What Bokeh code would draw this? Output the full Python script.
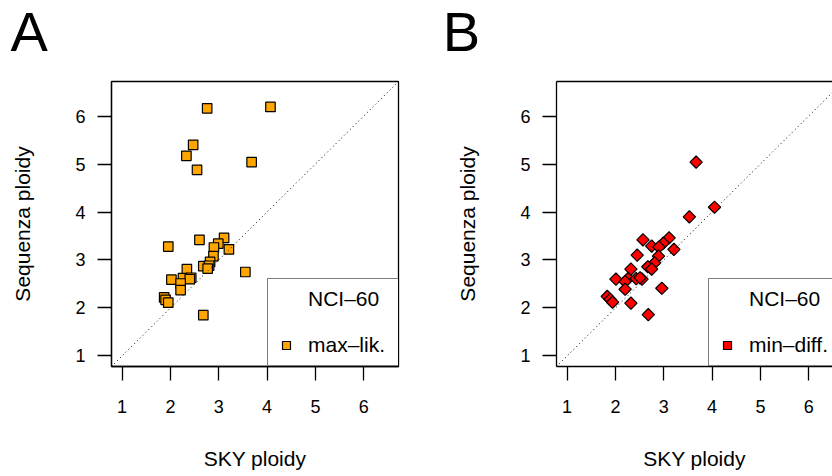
import math
from bokeh.plotting import figure
from bokeh.models import Range1d, FixedTicker, Slope, Legend, LegendItem, Label, LinearAxis
from bokeh.layouts import row, column
from bokeh.embed import file_html
from bokeh.resources import INLINE

# ---- data ----
sky_a = [2.76, 4.07, 2.47, 2.33, 2.55, 3.68,
         1.955, 2.60, 3.11, 2.99, 2.90, 3.21, 2.89, 2.82, 2.68, 2.80, 2.77,
         3.55, 2.34, 2.02, 2.26, 2.43, 2.40, 2.21, 2.21, 1.87, 1.90, 1.955, 2.68]
seq_maxlik = [6.16, 6.19, 5.40, 5.17, 4.88, 5.04,
              3.28, 3.42, 3.46, 3.34, 3.26, 3.22, 3.08, 2.96, 2.87, 2.88, 2.82,
              2.75, 2.81, 2.59, 2.62, 2.63, 2.60, 2.51, 2.37, 2.22, 2.17, 2.11, 1.85]

sky_b = [3.67, 4.05, 3.53, 2.57, 3.11, 2.75, 2.99, 2.90, 3.21, 2.45, 2.89,
         2.81, 2.67, 2.75, 2.32, 2.01, 2.26, 2.43, 2.55, 2.51, 2.20, 2.20,
         2.96, 1.83, 1.89, 1.94, 2.32, 2.68]
seq_mindiff = [5.04, 4.10, 3.90, 3.42, 3.46, 3.29, 3.35, 3.27, 3.22, 3.10, 3.08,
               2.94, 2.86, 2.81, 2.81, 2.60, 2.61, 2.61, 2.60, 2.63, 2.55, 2.39,
               2.41, 2.24, 2.18, 2.12, 2.10, 1.86]

axis_ticks = [1, 2, 3, 4, 5, 6]
x_title = "SKY ploidy"
y_title = "Sequenza ploidy"
legend_title = "NCI\u201360"
series_labels = ["max\u2013lik.", "min\u2013diff."]
panel_letters = ["A", "B"]

FONT = "Liberation Sans"
LW = 1.3
STRIP_H = 72


def style_axis(ax):
    ax.ticker = FixedTicker(ticks=axis_ticks)
    ax.minor_tick_line_color = None
    ax.major_tick_in = 0
    ax.major_tick_out = 14
    ax.major_tick_line_width = LW
    ax.major_tick_line_color = "black"
    ax.axis_line_width = LW
    ax.axis_line_color = "black"
    ax.major_label_text_font = FONT
    ax.major_label_text_font_size = "18px"
    ax.major_label_text_color = "black"
    ax.axis_label_text_font = FONT
    ax.axis_label_text_font_size = "21px"
    ax.axis_label_text_font_style = "normal"
    ax.axis_label_text_color = "black"


def make_panel(xs, ys, width, border_right, x_end, color, size, angle,
               label, legend_x, boxed):
    p = figure(width=width, height=476 - STRIP_H, title=None,
               x_range=Range1d(0.78, x_end), y_range=Range1d(0.78, 6.72),
               output_backend="svg", toolbar_location=None,
               min_border_left=111, min_border_right=border_right,
               min_border_top=81 - STRIP_H, min_border_bottom=110,
               background_fill_color="white", border_fill_color="white")
    p.grid.visible = False
    xa = p.below[0]
    ya = p.left[0]
    style_axis(xa)
    style_axis(ya)
    xa.axis_label = x_title
    ya.axis_label = y_title
    xa.major_label_standoff = 19
    xa.axis_label_standoff = 31
    ya.major_label_standoff = 12
    ya.axis_label_standoff = 38

    if boxed:
        p.outline_line_color = "black"
        p.outline_line_width = LW
        p.outline_line_alpha = 1
    else:
        # panel is cut by the right page edge: draw only left/bottom/top sides
        p.outline_line_color = None
        top = LinearAxis(ticker=FixedTicker(ticks=[]), major_tick_out=0,
                         major_tick_in=0, minor_tick_line_color=None,
                         major_label_text_font_size="0px",
                         major_label_standoff=0,
                         axis_line_width=LW, axis_line_color="black")
        p.add_layout(top, "above")

    r = p.scatter(xs, ys, marker="square", size=size, angle=angle,
                  fill_color=color, line_color="black", line_width=1.2)

    p.add_layout(Slope(gradient=1, y_intercept=0, line_color="black",
                       line_width=1, line_dash="1 3"))

    legend = Legend(
        items=[LegendItem(label=legend_title, renderers=[]),
               LegendItem(label=label, renderers=[r])],
        location=(legend_x, 0),
        padding=8, spacing=22, margin=0,
        glyph_width=20, glyph_height=20, label_height=20,
        label_width=83, label_standoff=12,
        label_text_font=FONT, label_text_font_size="21px",
        label_text_color="black",
        border_line_color="black", border_line_width=LW,
        background_fill_color="white", background_fill_alpha=1,
    )
    p.add_layout(legend, "center")
    return p


pa = make_panel(sky_a, seq_maxlik, 445, 47, 6.72, "#FFA500", 9.5, 0,
                series_labels[0], 156, True)
pb = make_panel(sky_b, seq_mindiff, 387, 0, 0.78 + 276 * (5.94 / 287),
                "#FF0000", 8.7, math.pi / 4, series_labels[1], 152, False)

# strip holding the panel letters
strip = figure(width=832, height=STRIP_H, title=None,
               x_range=Range1d(0, 832), y_range=Range1d(0, STRIP_H),
               x_axis_location=None, y_axis_location=None,
               output_backend="svg", toolbar_location=None, min_border=0,
               background_fill_color="white", border_fill_color="white")
strip.grid.visible = False
strip.outline_line_color = None
for letter, cx in zip(panel_letters, [28.7, 461]):
    strip.add_layout(Label(x=cx, y=41, x_units="screen", y_units="screen",
                           text=letter, text_font=FONT, text_font_size="56px",
                           text_align="center", text_baseline="alphabetic",
                           text_color="black"))

layout = column(strip, row(pa, pb))
open("out.html", "w").write(file_html(layout, INLINE))
